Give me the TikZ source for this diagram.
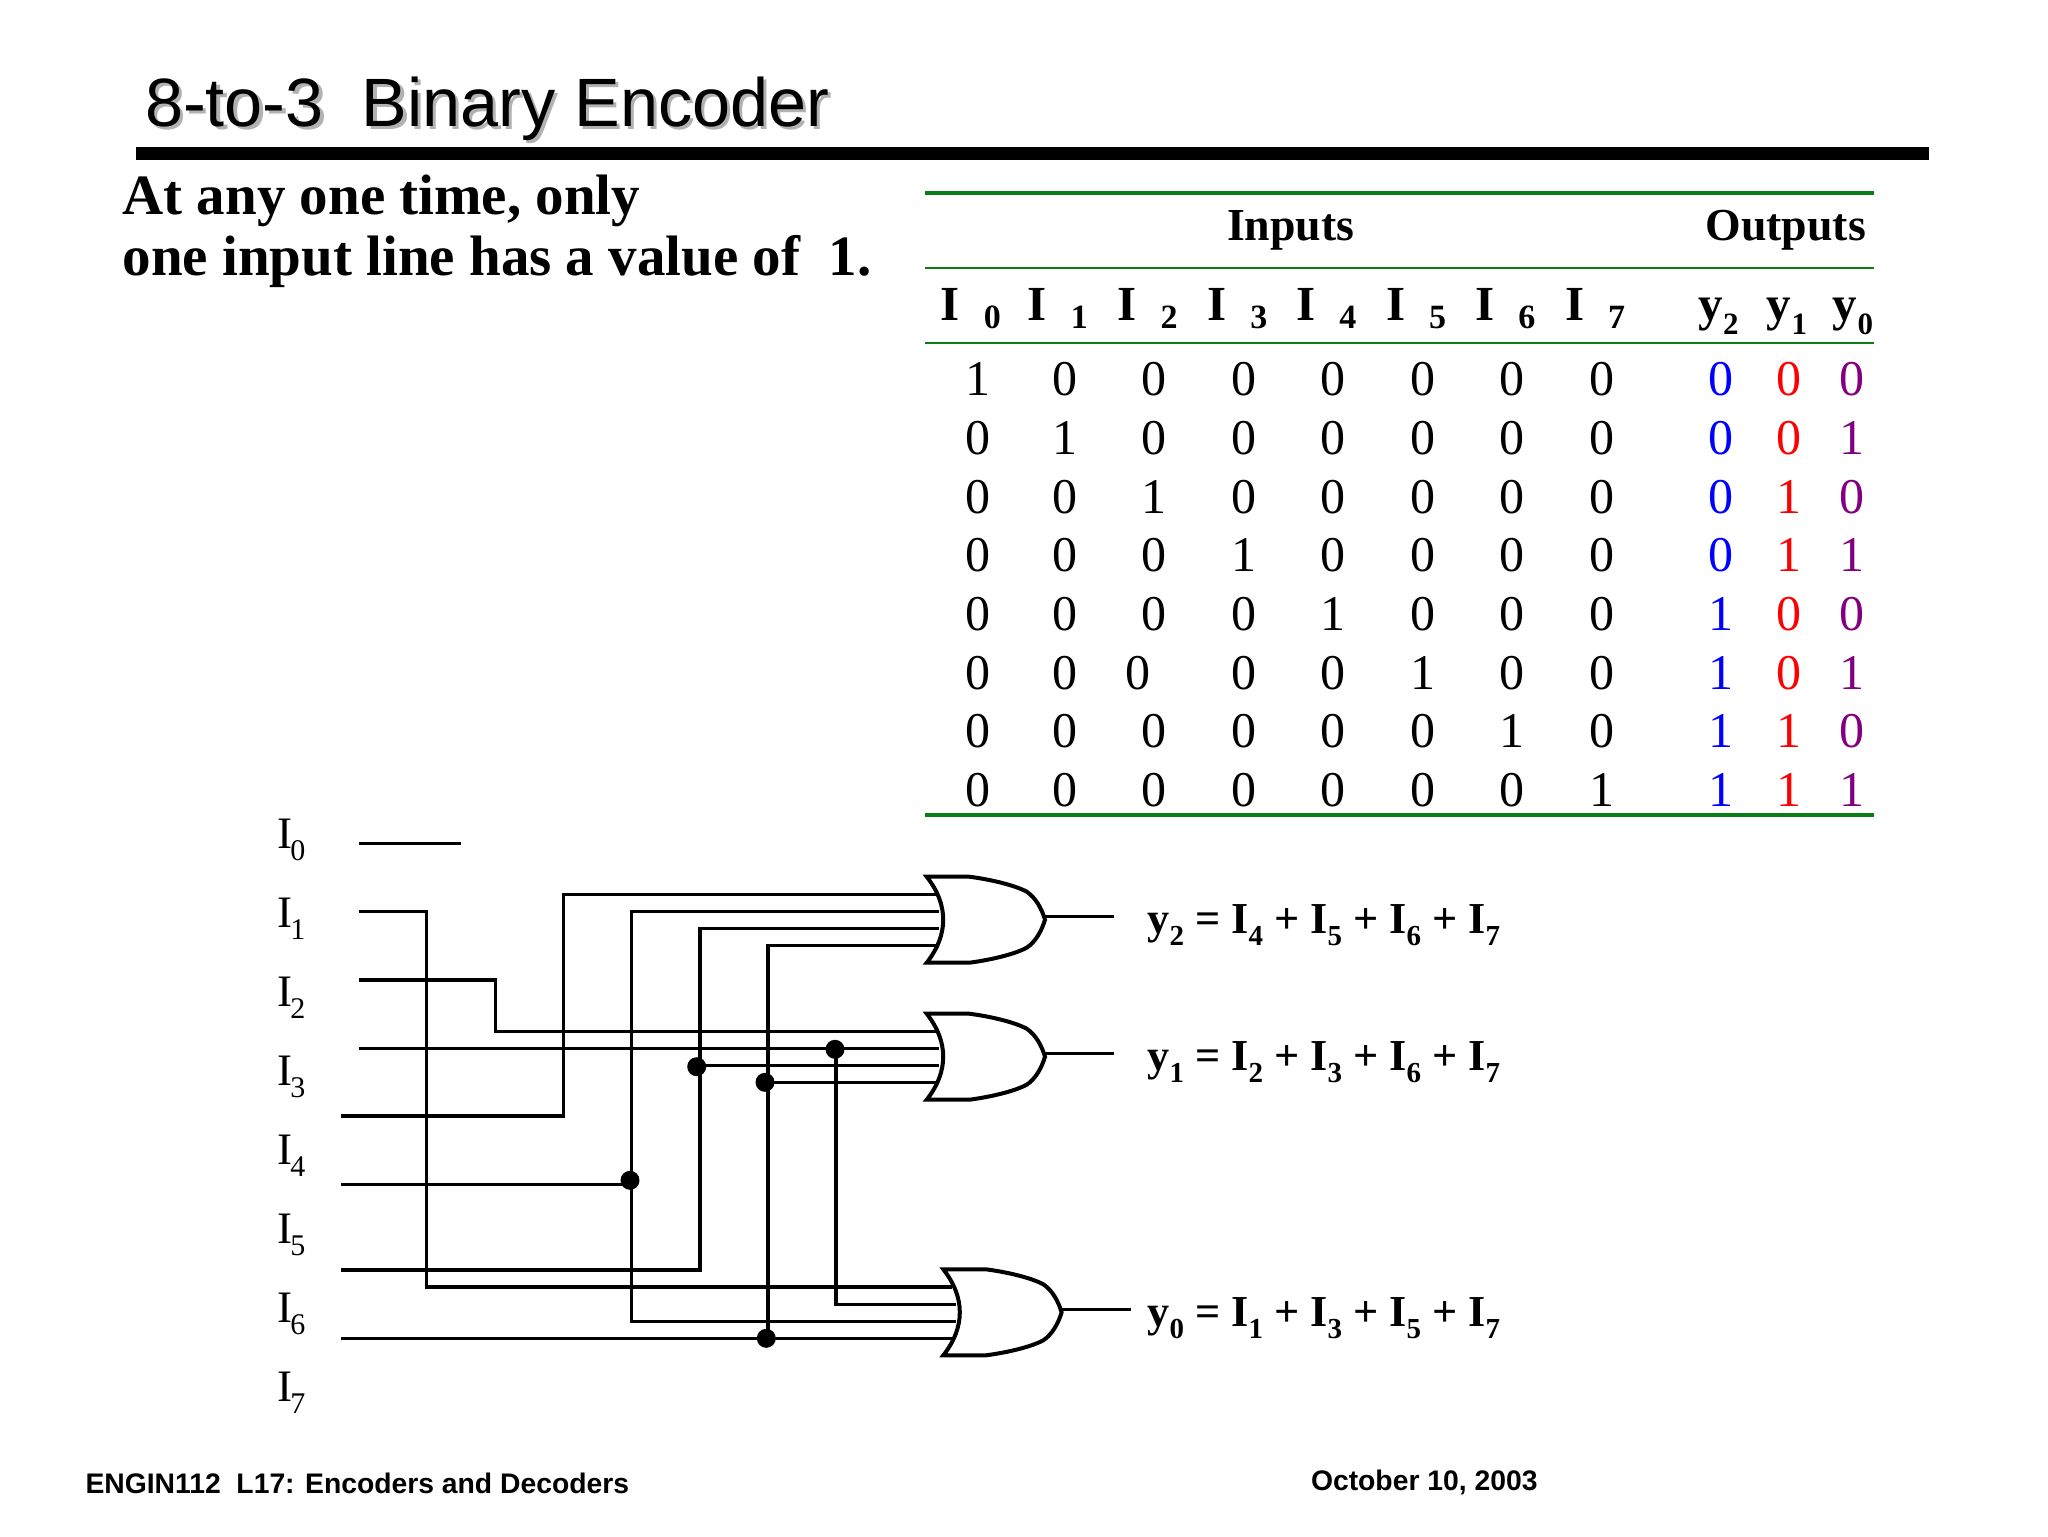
\documentclass[tikz,border=0pt]{standalone}
\usepackage{fontspec}
\setmainfont{Liberation Serif}
\newfontfamily\arialf{Liberation Sans}
\usetikzlibrary{calc}
\definecolor{tgreen}{RGB}{10,125,20}
\definecolor{tpurple}{RGB}{128,0,128}
\newcommand{\fs}[1]{\fontsize{#1}{#1}\selectfont}
\newcommand{\lsub}[1]{\hspace{-0.8pt}\raisebox{-6pt}{\fs{15}#1}}
\newcommand{\hsub}[1]{\hspace{12pt}\raisebox{-3.7pt}{\fs{17}\bfseries #1}}
\newcommand{\ysub}[1]{\hspace{0.3pt}\raisebox{-7pt}{\fs{15.5}\bfseries #1}}
\newcommand{\esub}[1]{\raisebox{-6pt}{\fs{14.5}\bfseries #1}}
\tikzset{
  txt/.style={anchor=base west,inner sep=0pt,outer sep=0pt},
  lab/.style={txt,font=\fs{22.5}},
  body/.style={txt,font=\fs{28.5}\bfseries},
  foot/.style={txt,font=\arialf\fs{14.15}\bfseries},
  head/.style={txt,font=\fs{22.9}\bfseries},
  hdr/.style={txt,font=\fs{24.5}\bfseries},
  eqn/.style={txt,font=\fs{22.1}\bfseries},
  cell/.style={anchor=base,inner sep=0pt,outer sep=0pt,font=\fs{25}},
  wire/.style={line width=1.7pt,line join=miter},
  rule/.style={tgreen,line width=#1},
  dot/.style={circle,fill=black,inner sep=0pt,minimum size=9.5pt},
  pics/orgate/.style={code={
    \draw[line width=2pt,line join=miter]
      (0,0) -- (42.6,0) .. controls (62,2.5) and (87,8) .. (100,15)
      .. controls (109,21) and (115,32) .. (118.3,43)
      .. controls (115,54) and (109,65) .. (100,71)
      .. controls (87,78) and (62,83.5) .. (42.6,86) -- (0,86)
      .. controls (22,58) and (22,28) .. (0,0) -- cycle;
    \coordinate (-i1) at (9,17.5);
    \coordinate (-i2) at (12.5,35);
    \coordinate (-i3) at (12.5,52);
    \coordinate (-i4) at (9,69);
    \coordinate (-o) at (118.3,40);
  }}
}
\begin{document}
\begin{tikzpicture}[x=0.5pt,y=-0.5pt]
\useasboundingbox (0,0) rectangle (2048,1536);
% title
\node[txt,text=black!30,font=\arialf\fs{34.2}] (titleshadow) at (148.5,129.5) {8-to-3\ \ Binary Encoder};
\node[txt,font=\arialf\fs{34.2}] (title) at (145,126.7) {8-to-3\ \ Binary Encoder};
\coordinate (barL) at (136.3,153.6);
\coordinate (barR) at (1928.7,153.6);
\draw[line width=6.3pt] (barL) -- (barR);
\node[body] (b1) at (122.5,214) {At any one time, only};
\node[body] (b2) at (122.5,275) {one input line has a value of\ \ 1.};
% table rules
\coordinate (r1L) at (925,192.7); \coordinate (r1R) at (1874,192.7);
\coordinate (r2L) at (925,268.3); \coordinate (r2R) at (1874,268.3);
\coordinate (r3L) at (925,342.7); \coordinate (r3R) at (1874,342.7);
\coordinate (r4L) at (925,814.7); \coordinate (r4R) at (1874,814.7);
\draw[rule=2pt] (r1L) -- (r1R);
\draw[rule=1.1pt] (r2L) -- (r2R);
\draw[rule=1.1pt] (r3L) -- (r3R);
\draw[rule=2pt] (r4L) -- (r4R);
\node[head] (hIn) at (1227,240.7) {Inputs};
\node[head] (hOut) at (1705.5,240.7) {Outputs};
\foreach \c/\x in {0/940.7,1/1027.8,2/1117.5,3/1207.3,4/1296.4,5/1386.1,6/1475.2,7/1565}
  \node[hdr] (hI\c) at (\x,320.7) {I\hsub{\c}};
\node[hdr] (hy2) at (1698,320.7) {y\ysub{2}};
\node[hdr] (hy1) at (1766.5,320.7) {y\ysub{1}};
\node[hdr] (hy0) at (1832.5,320.7) {y\ysub{0}};
% table body
\foreach \r/\a/\b/\d in {0/0/0/0,1/0/0/1,2/0/1/0,3/0/1/1,4/1/0/0,5/1/0/1,6/1/1/0,7/1/1/1}{
  \pgfmathsetmacro\yy{395.7+58.7*\r}
  \foreach \c/\x in {0/978,1/1064.7,2/1154,3/1243.7,4/1332.9,5/1423.2,6/1511.9,7/1602.3}{
    \pgfmathtruncatemacro\val{\c==\r ? 1 : 0}
    \pgfmathsetmacro\xx{(\r==5 && \c==2) ? 1137.5 : \x}
    \node[cell] (c\r-\c) at (\xx,\yy) {\val};
  }
  \node[cell,text=blue] (o\r-2) at (1721,\yy) {\a};
  \node[cell,text=red] (o\r-1) at (1789,\yy) {\b};
  \node[cell,text=tpurple] (o\r-0) at (1851.9,\yy) {\d};
}
% input labels
\foreach \n in {0,...,7}{
  \pgfmathsetmacro\yy{848.3+79*\n}
  \node[lab] (L\n) at (277,\yy) {I\lsub{\n}};
}
% gates
\pic (g1) at (926.7,876.7) {orgate};
\pic (g2) at (926.7,1013.7) {orgate};
\pic (g3) at (943.3,1269.3) {orgate};
\coordinate (o1) at (1114,916.7);
\coordinate (o2) at (1114,1053.7);
\coordinate (o3) at (1130.7,1309.3);
\draw[wire] (g1-o) -- (o1);
\draw[wire] (g2-o) -- (o2);
\draw[wire] (g3-o) -- (o3);
% junction dots
\node[dot] (d5) at (630,1180.3) {};
\node[dot] (d6) at (696.7,1066.7) {};
\node[dot] (d7a) at (765,1082.3) {};
\node[dot] (d3) at (835,1049.3) {};
\node[dot] (d7b) at (766.3,1338.3) {};
% wires
\coordinate (s0) at (358.7,843.3); \coordinate (e0) at (460.7,843.3);
\draw[wire] (s0) -- (e0);
\coordinate (s1) at (358.7,911.7); \coordinate (b1v) at (426.7,911.7);
\draw[wire] (s1) -- (b1v) -- (b1v |- g3-i1) -- (g3-i1);
\coordinate (s2) at (358.7,980); \coordinate (b2v) at (495.3,980);
\draw[wire] (s2) -- (b2v) -- (b2v |- g2-i1) -- (g2-i1);
\coordinate (s3) at (358.7,1048.7);
\draw[wire] (s3) -- (g2-i2);
\coordinate (b3v) at (836,1049.3);
\draw[wire] (b3v) -- (b3v |- g3-i2) -- (g3-i2);
\coordinate (s4) at (341.3,1116); \coordinate (b4v) at (563.3,1116);
\draw[wire] (s4) -- (b4v) -- (b4v |- g1-i1) -- (g1-i1);
\coordinate (s5) at (341.3,1184.7); \coordinate (b5v) at (631.7,1184.7);
\draw[wire] (s5) -- (b5v);
\draw[wire] (g1-i2) -- (b5v |- g1-i2) -- (b5v |- g3-i3) -- (g3-i3);
\coordinate (s6) at (341.3,1270); \coordinate (b6v) at (700,1270);
\draw[wire] (s6) -- (b6v) -- (b6v |- g1-i3) -- (g1-i3);
\draw[wire] (d6 |- g2-i3) -- (g2-i3);
\coordinate (s7) at (341.3,1338.3); \coordinate (b7v) at (768,1338.3);
\draw[wire] (s7) -- (g3-i4);
\draw[wire] (b7v) -- (b7v |- g1-i4) -- (g1-i4);
\draw[wire] (d7a |- g2-i4) -- (g2-i4);
% equations
\node[eqn] (e2) at (1147.5,933.3) {y\esub{2} = I\esub{4} + I\esub{5} + I\esub{6} + I\esub{7}};
\node[eqn] (e1) at (1147.5,1070) {y\esub{1} = I\esub{2} + I\esub{3} + I\esub{6} + I\esub{7}};
\node[eqn] (e0) at (1147.5,1326.6) {y\esub{0} = I\esub{1} + I\esub{3} + I\esub{5} + I\esub{7}};
% footer
\node[foot] (fl) at (85.5,1493.2) {ENGIN112\ \ L17: Encoders and Decoders};
\node[foot] (fr) at (1311,1490.7) {October 10, 2003};
\end{tikzpicture}
\end{document}
